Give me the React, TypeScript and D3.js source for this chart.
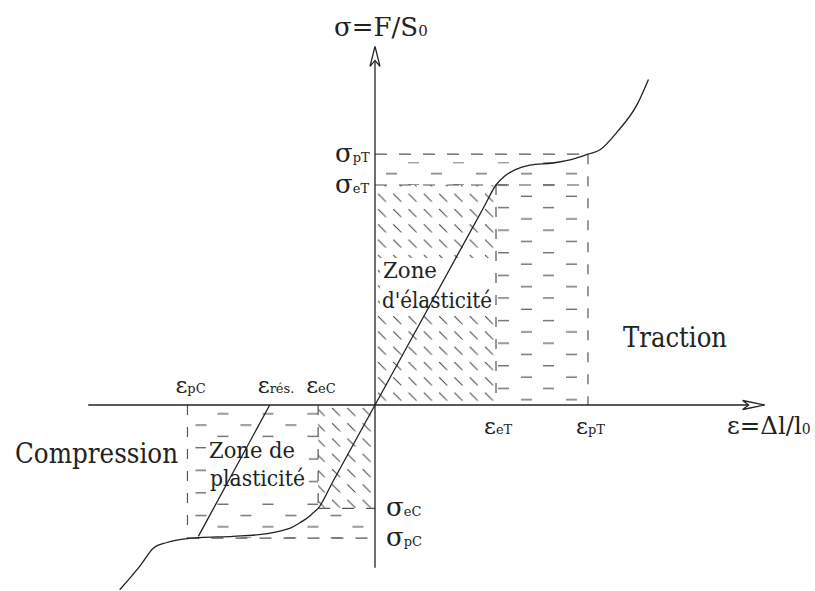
import React from "react";
import * as d3 from "d3";

const W = 815;
const H = 591;

// strain marks on the horizontal axis (ε, εeT = 1)
const strainNames = ["pC", "rés.", "eC", "eT", "pT"];
const strainValues = [-1.55, -0.87, -0.47, 1.0, 1.76];

// stress marks on the vertical axis (σ, σeT = 1)
const stressNames = ["pT", "eT", "eC", "pC"];
const stressValues = [1.14, 1.0, -0.47, -0.605];

// stress-strain curve
const curveStrain = [
  -2.11, -1.94, -1.83, -1.72, -1.55, -1.45, -1.17, -0.89, -0.76, -0.7, -0.62,
  -0.56, -0.51, -0.47, -0.35, 0, 0.9, 1.0, 1.07, 1.16, 1.28, 1.47, 1.65, 1.76,
  1.86, 2.0, 2.17, 2.26,
];
const curveStress = [
  -0.84, -0.73, -0.65, -0.625, -0.607, -0.603, -0.597, -0.585, -0.57, -0.56,
  -0.535, -0.514, -0.49, -0.47, -0.35, 0, 0.9, 1.0, 1.04, 1.07, 1.09, 1.1, 1.12,
  1.14, 1.16, 1.24, 1.37, 1.48,
];

// residual strain line (unloading from the plateau)
const residualStrain = [-0.87, -1.46];
const residualStress = [0, -0.597];

const axisStrain = [-2.37, 3.22];
const axisStress = [-0.74, 1.63];

const App = () => {
  const x = d3.scaleLinear().domain([-3, 3.5]).range([12, 798.5]);
  const y = d3.scaleLinear().domain([-0.85, 1.75]).range([592, 20]);

  const sv = (n: string) => strainValues[strainNames.indexOf(n)];
  const st = (n: string) => stressValues[stressNames.indexOf(n)];

  const curvePts: [number, number][] = curveStrain.map((e, i) => [e, curveStress[i]]);
  const line = d3
    .line<[number, number]>()
    .x((d) => x(d[0]))
    .y((d) => y(d[1]))
    .curve(d3.curveMonotoneX);

  const x0 = x(0);
  const y0 = y(0);
  const font = "'DejaVu Serif', 'Liberation Serif', serif";
  const dashCol = "#555";
  const fit = "spacingAndGlyphs";

  // zone rectangles
  const plT = { x: x0, y: y(st("pT")), w: x(sv("pT")) - x0, h: y0 - y(st("pT")) };
  const elT = { x: x0, y: y(st("eT")), w: x(sv("eT")) - x0, h: y0 - y(st("eT")) };
  const plC = { x: x(sv("pC")), y: y0, w: x0 - x(sv("pC")), h: y(st("pC")) - y0 };
  const elC = { x: x(sv("eC")), y: y0, w: x0 - x(sv("eC")), h: y(st("eC")) - y0 };

  const bd = "12 12";

  const sym = (g: string, sub: string, tx: number, ty: number, size: number) => (
    <text x={tx} y={ty} fill="#222">
      <tspan fontSize={size}>{g}</tspan>
      <tspan fontSize={13}>{sub}</tspan>
    </text>
  );

  return (
    <svg
      width={W}
      height={H}
      fontFamily={font}
      style={{ position: "absolute", left: 0, top: 0, background: "#fff" }}
    >
      <defs>
        <pattern
          id="hatch"
          patternUnits="userSpaceOnUse"
          width={15.3}
          height={15.3}
          x={x0}
          y={y0}
        >
          <line x1={3} y1={3} x2={11} y2={11} stroke="#333" strokeWidth={1} />
        </pattern>
        <pattern
          id="dashT"
          patternUnits="userSpaceOnUse"
          width={45}
          height={22.6}
          x={x(sv("eT"))}
          y={y(st("eT")) - 5.65}
        >
          <line x1={2} y1={5.65} x2={13} y2={5.65} stroke={dashCol} strokeWidth={1.2} />
          <line x1={25} y1={16.95} x2={36} y2={16.95} stroke={dashCol} strokeWidth={1.2} />
        </pattern>
        <pattern
          id="dashC"
          patternUnits="userSpaceOnUse"
          width={45}
          height={22.6}
          x={x(sv("pC"))}
          y={y(st("pC")) - 5.65}
        >
          <line x1={8} y1={5.65} x2={19} y2={5.65} stroke={dashCol} strokeWidth={1.2} />
          <line x1={30} y1={16.95} x2={41} y2={16.95} stroke={dashCol} strokeWidth={1.2} />
        </pattern>
      </defs>

      {/* plastic zones */}
      <rect x={plT.x} y={plT.y + 8} width={plT.w} height={plT.h - 8} fill="url(#dashT)" />
      <rect x={plC.x} y={plC.y} width={plC.w} height={plC.h} fill="url(#dashC)" />
      {/* elastic zones */}
      <rect x={elT.x} y={elT.y} width={elT.w} height={elT.h} fill="#fff" />
      <rect x={elT.x} y={elT.y} width={elT.w} height={elT.h} fill="url(#hatch)" />
      <rect x={elC.x} y={elC.y} width={elC.w} height={elC.h} fill="#fff" />
      <rect x={elC.x} y={elC.y} width={elC.w} height={elC.h} fill="url(#hatch)" />

      {/* dashed boundaries */}
      <g stroke={dashCol} strokeWidth={1.2} strokeDasharray={bd} fill="none">
        <line x1={x0} x2={x(sv("pT"))} y1={y(st("pT"))} y2={y(st("pT"))} />
        <line x1={x0} x2={x(sv("pT"))} y1={y(st("eT"))} y2={y(st("eT"))} />
        <line x1={x(sv("eT"))} x2={x(sv("eT"))} y1={y(st("eT"))} y2={y0} strokeDasharray="10 12" />
        <line x1={x(sv("pT"))} x2={x(sv("pT"))} y1={y(st("pT"))} y2={y0} strokeDasharray="10 12" />
        <line x1={x(sv("pC"))} x2={x0} y1={y(st("pC"))} y2={y(st("pC"))} />
        <line x1={x(sv("eC"))} x2={x0} y1={y(st("eC"))} y2={y(st("eC"))} />
        <line x1={x(sv("pC"))} x2={x(sv("pC"))} y1={y0} y2={y(st("pC"))} strokeDasharray="10 12" />
        <line x1={x(sv("eC"))} x2={x(sv("eC"))} y1={y0} y2={y(st("eC"))} strokeDasharray="10 12" />
      </g>

      {/* zone labels */}
      <rect x={380} y={258} width={114} height={56} fill="#fff" />
      <text fontSize={22} fill="#222">
        <tspan x={383} y={278} textLength={54} lengthAdjust={fit}>Zone</tspan>
        <tspan x={382} y={308} textLength={110} lengthAdjust={fit}>d'élasticité</tspan>
      </text>
      <rect x={206} y={438} width={103} height={56} fill="#fff" />
      <text fontSize={22} fill="#222">
        <tspan x={209} y={458} textLength={86} lengthAdjust={fit}>Zone de</tspan>
        <tspan x={210} y={486} textLength={95} lengthAdjust={fit}>plasticité</tspan>
      </text>

      {/* axes */}
      <g stroke="#222" strokeWidth={1.3} fill="#fff">
        <line x1={x(axisStrain[0])} x2={x(axisStrain[1]) - 16} y1={y0} y2={y0} />
        <path
          d={`M${x(axisStrain[1])},${y0} L${x(axisStrain[1]) - 22},${y0 - 4.5} L${x(axisStrain[1]) - 16},${y0} L${x(axisStrain[1]) - 22},${y0 + 4.5} Z`}
        />
        <line x1={x0} x2={x0} y1={y(axisStress[0])} y2={y(axisStress[1]) + 14} />
        <path
          d={`M${x0},${y(axisStress[1])} L${x0 - 5},${y(axisStress[1]) + 20} L${x0},${y(axisStress[1]) + 14} L${x0 + 5},${y(axisStress[1]) + 20} Z`}
        />
      </g>

      {/* curve and residual line */}
      <path d={line(curvePts) ?? ""} fill="none" stroke="#222" strokeWidth={1.3} />
      <line
        x1={x(residualStrain[0])}
        y1={y(residualStress[0])}
        x2={x(residualStrain[1])}
        y2={y(residualStress[1])}
        stroke="#222"
        strokeWidth={1.3}
      />

      {/* strain labels */}
      {strainNames.map((n, i) =>
        <g key={n}>{sym("ε", n, x(strainValues[i]) - 12, strainValues[i] < 0 ? y0 - 12 : y0 + 29, 23)}</g>
      )}
      {/* stress labels */}
      {stressNames.map((n, i) =>
        <g key={n}>{sym("σ", n, stressValues[i] > 0 ? 335 : 386, y(stressValues[i]) + 8, 26)}</g>
      )}

      {/* axis titles */}
      <text x={334} y={36} fill="#222">
        <tspan fontSize={26}>σ=F/S</tspan>
        <tspan fontSize={15}>0</tspan>
      </text>
      <text x={727} y={434} fill="#222">
        <tspan fontSize={24.5}>ε=Δl/l</tspan>
        <tspan fontSize={14}>0</tspan>
      </text>

      <text x={623} y={347} fontSize={27} fill="#222" textLength={104} lengthAdjust={fit}>Traction</text>
      <text x={15} y={463} fontSize={27} fill="#222" textLength={163} lengthAdjust={fit}>Compression</text>
    </svg>
  );
};

export default App;
